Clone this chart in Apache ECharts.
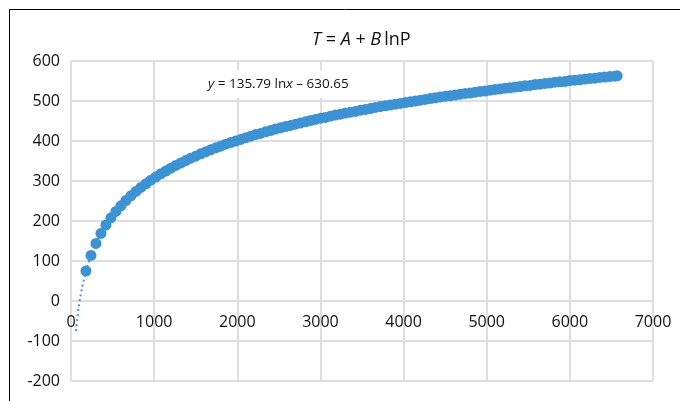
<!DOCTYPE html>
<html><head><meta charset="utf-8">
<script src="https://cdn.jsdelivr.net/npm/echarts@6/dist/echarts.min.js"></script>
<style>html,body{margin:0;padding:0;background:#fff}#c{width:680px;height:401px}</style>
</head><body><div id="c"></div>
<script>
const pressureValues = [180,240,300,360,420,480,540,600,
660,720,780,840,900,960,1020,1080,1140,1200,
1260,1320,1380,1440,1500,1560,1620,1680,1740,1800,
1860,1920,1980,2040,2100,2160,2220,2280,2340,2400,
2460,2520,2580,2640,2700,2760,2820,2880,2940,3000,
3060,3120,3180,3240,3300,3360,3420,3480,3540,3600,
3660,3720,3780,3840,3900,3960,4020,4080,4140,4200,
4260,4320,4380,4440,4500,4560,4620,4680,4740,4800,
4860,4920,4980,5040,5100,5160,5220,5280,5340,5400,
5460,5520,5580,5640,5700,5760,5820,5880,5940,6000,
6060,6120,6180,6240,6300,6360,6420,6480,6540,6570];
const temperatureValues = [75,114,144,169,190,208,224,238,
251,263,274,284,293,302,310,318,325,332,
339,345,351,357,362,368,373,378,383,387,
392,396,400,404,408,412,416,419,423,426,
430,433,436,439,442,445,448,451,454,457,
459,462,465,467,470,472,474,477,479,481,
484,486,488,490,492,494,496,498,500,502,
504,506,508,510,512,513,515,517,519,520,
522,524,525,527,529,530,532,533,535,536,
538,539,541,542,544,545,547,548,549,551,
552,553,555,556,557,559,560,561,562,563];
// Dotted logarithmic trendline
const trendX = [60,70,80,90,100,120,140,160,180,240,300,420,600,900,1200,1600,2000,2500,3000,3500,4000,4500,5000,5500,6000,6570];
const trendY = [-75,-54,-36,-20,-5,19,40,58,75,114,144,190,238,293,332,371,401,432,457,477,496,512,526,539,551,563];
const xTicks = {min:0, max:7000, interval:1000};
const yTicks = {min:-200, max:600, interval:100};
const titleText = '{i|T} = {i|A} + {i|B}\u2009lnP';
const eqText = '{i|y} = 135.79 ln{i|x} \u2013 630.65';

const blue = '#3d92d3';
const gridColor = '#dedede';
const font = 'Open Sans';
const gridTop = 61, gridBottom = 20, chartH = 401;
const plotH = chartH - gridTop - gridBottom;
// x axis crosses at y = 0 : offset from the bottom edge of the plot
const zeroOffset = -plotH * (0 - yTicks.min) / (yTicks.max - yTicks.min);

const chart = echarts.init(document.getElementById('c'));
chart.setOption({
  animation:false,
  backgroundColor:'#fff',
  title:{
    text:titleText, left:307, top:26,
    textStyle:{fontFamily:font,fontSize:18,fontWeight:'normal',color:'#111',
      rich:{i:{fontFamily:font,fontSize:18,fontStyle:'italic',color:'#111'}}}
  },
  graphic:[
    {type:'polyline',shape:{points:[[9.5,401],[9.5,9.5],[680,9.5]]},style:{stroke:'#000',lineWidth:1,fill:null},silent:true,z:100},
    {type:'rect',shape:{x:203,y:70,width:160,height:28},style:{fill:'#fff'},silent:true,z:100},
    {type:'text',left:208,top:77,z:101,style:{text:eqText,fontFamily:font,fontSize:13.5,fill:'#111',
      rich:{i:{fontFamily:font,fontSize:13.5,fontStyle:'italic',fill:'#111'}}}}
  ],
  grid:{left:71,right:27,top:gridTop,bottom:gridBottom,containLabel:false,outerBoundsMode:'none'},
  xAxis:{type:'value',min:xTicks.min,max:xTicks.max,interval:xTicks.interval,
    position:'bottom',offset:zeroOffset,
    axisLine:{show:true,onZero:false,lineStyle:{color:gridColor,width:2}},
    axisTick:{show:false},
    axisLabel:{margin:13,fontFamily:font,fontSize:16,color:'#111',formatter:v=>String(v)},
    splitLine:{show:true,lineStyle:{color:gridColor,width:2}}},
  yAxis:{type:'value',min:yTicks.min,max:yTicks.max,interval:yTicks.interval,
    axisLine:{show:false},axisTick:{show:false},
    axisLabel:{margin:11,fontFamily:font,fontSize:16,color:'#111',formatter:v=>String(v)},
    splitLine:{show:true,lineStyle:{color:gridColor,width:2}}},
  series:[
    {type:'line',data:trendX.map((x,i)=>[x,trendY[i]]),showSymbol:false,smooth:true,
     lineStyle:{color:blue,width:2,type:[2,3]},z:2},
    {type:'scatter',data:pressureValues.map((x,i)=>[x,temperatureValues[i]]),
     symbolSize:11,itemStyle:{color:blue,opacity:1},z:3}
  ]
});
</script></body></html>
